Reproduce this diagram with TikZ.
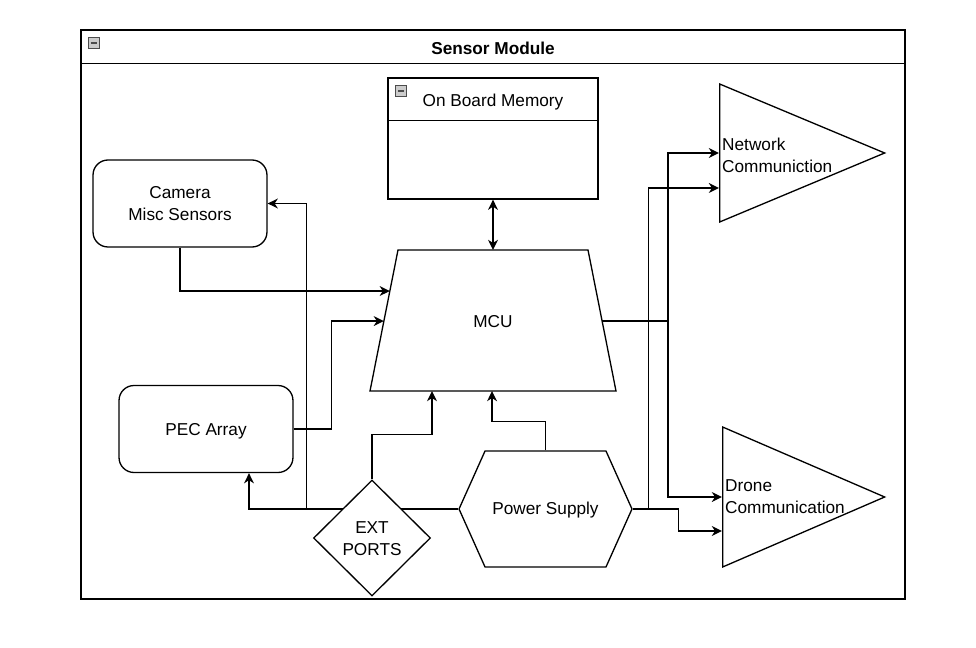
\documentclass[tikz,border=0pt]{standalone}
\usepackage{fontspec}
\setmainfont{Liberation Sans}
\usetikzlibrary{arrows.meta,calc,positioning,shapes.geometric,shapes.symbols}

\begin{document}
\begin{tikzpicture}
    [
      x=0.02cm, y=-0.02cm,
      every node/.style={font=\fontsize{9.8}{12.5}\selectfont},
      frame/.style={rectangle,draw,line width=0.75pt,inner sep=0pt},
      outline/.style={line width=0.75pt},
      block/.style={rectangle,draw,line width=0.75pt,rounded corners=0.3cm,minimum width=3.48cm,minimum height=1.74cm,align=center},
      port/.style={diamond,draw,line width=0.75pt,fill=white,minimum width=2.34cm,minimum height=2.32cm,inner sep=0pt,align=center},
      supply/.style={signal,signal to=west and east,signal pointer angle=131.7,draw,line width=0.75pt,fill=white,minimum width=3.46cm,minimum height=2.32cm,inner sep=0pt},
      link/.style={isosceles triangle,isosceles triangle stretches,draw,line width=0.75pt,minimum width=2.76cm,minimum height=3.3cm,inner sep=0pt,anchor=west},
      icon/.style={rectangle,draw=gray!60!black,fill=gray!40,line width=0.4pt,minimum width=0.22cm,minimum height=0.21cm,inner sep=0pt,
        path picture={\draw[line width=1.1pt] ([xshift=0.05cm]path picture bounding box.west) -- ([xshift=-0.05cm]path picture bounding box.east);}},
      post/.style={->,>={Stealth[length=5.8pt,width=5.6pt,inset=1.8pt]},line width=0.75pt}
    ]
    \useasboundingbox (0,0) rectangle (976,648);

    % container
    \node (module) [frame, minimum width=16.48cm, minimum height=11.38cm] at (493,314.5) {};
    \draw [outline] ([yshift=-0.68cm]module.north west) -- ([yshift=-0.68cm]module.north east);
    \node (modicon) [icon] at (93.5,43) {};
    \node (title) at (493,48) {\bfseries Sensor Module};

    % memory
    \node (memory) [frame, minimum width=4.2cm, minimum height=2.42cm] at (493,138.5) {};
    \draw [outline] ([yshift=-0.86cm]memory.north west) -- ([yshift=-0.86cm]memory.north east);
    \node (memicon) [icon] at (401,91) {};
    \node (memtitle) at (493,102) {On Board Memory};

    % mcu
    \coordinate (mcutl) at (398,250);
    \coordinate (mcutr) at (588,250);
    \coordinate (mcubr) at (616,391);
    \coordinate (mcubl) at (370,391);
    \draw [outline] (mcutl) -- (mcutr) -- (mcubr) -- (mcubl) -- cycle;
    \node (mcu) at (493,322) {MCU};

    \node (camera) [block] at (180,203.5) {Camera\\Misc Sensors};
    \node (pec) [block] at (206,429) {};
    \node (pectext) at (206,431) {PEC Array};
    \node (power) [supply] at (545.5,509) {};
    \node (powertext) at (545.5,510) {Power Supply};

    \node (network) [link] at (719,153) {};
    \node (nettext) [anchor=west, align=left] at (716,155) {Network\\Communiction};
    \node (drone) [link, minimum width=2.8cm, minimum height=3.24cm] at (722,497) {};
    \node (dronetext) [anchor=west, align=left] at (719,497) {Drone\\Communication};

    % lines behind the ports
    \draw [post] (power.west) -- ++(-152,0) |- (camera.east);
    \draw [post] (power.west) -| ([xshift=0.86cm]pec.south);

    \node (ext) [port] at (372,538) {};
    \node (exttext) [align=center] at (372,539) {EXT\\PORTS};

    \draw [post, <->] (memory.south) -- ($(mcutl)!0.5!(mcutr)$);
    \draw [post] (camera.south) |- ($(mcubl)!0.709!(mcutl)$);
    \draw [post] (pec.east) -- ++(38,0) |- ($(mcubl)!0.496!(mcutl)$);
    \draw [post] (ext.north) -- ++(0,-45) -| ($(mcubl)!0.252!(mcubr)$);
    \draw [post] (power.north) -- ++(0,-29) -| ($(mcubl)!0.496!(mcubr)$);
    \draw [post] ($(mcubr)!0.496!(mcutr)$) -- ++(66,0) |- (network.west);
    \draw [post] ($(mcubr)!0.496!(mcutr)$) -- ++(66,0) |- (drone.west);
    \draw [post] (power.east) -- ++(16,0) |- ([yshift=-0.7cm]network.west);
    \draw [post] (power.east) -- ++(46,0) |- ([yshift=-0.68cm]drone.west);

  \end{tikzpicture}
\end{document}
